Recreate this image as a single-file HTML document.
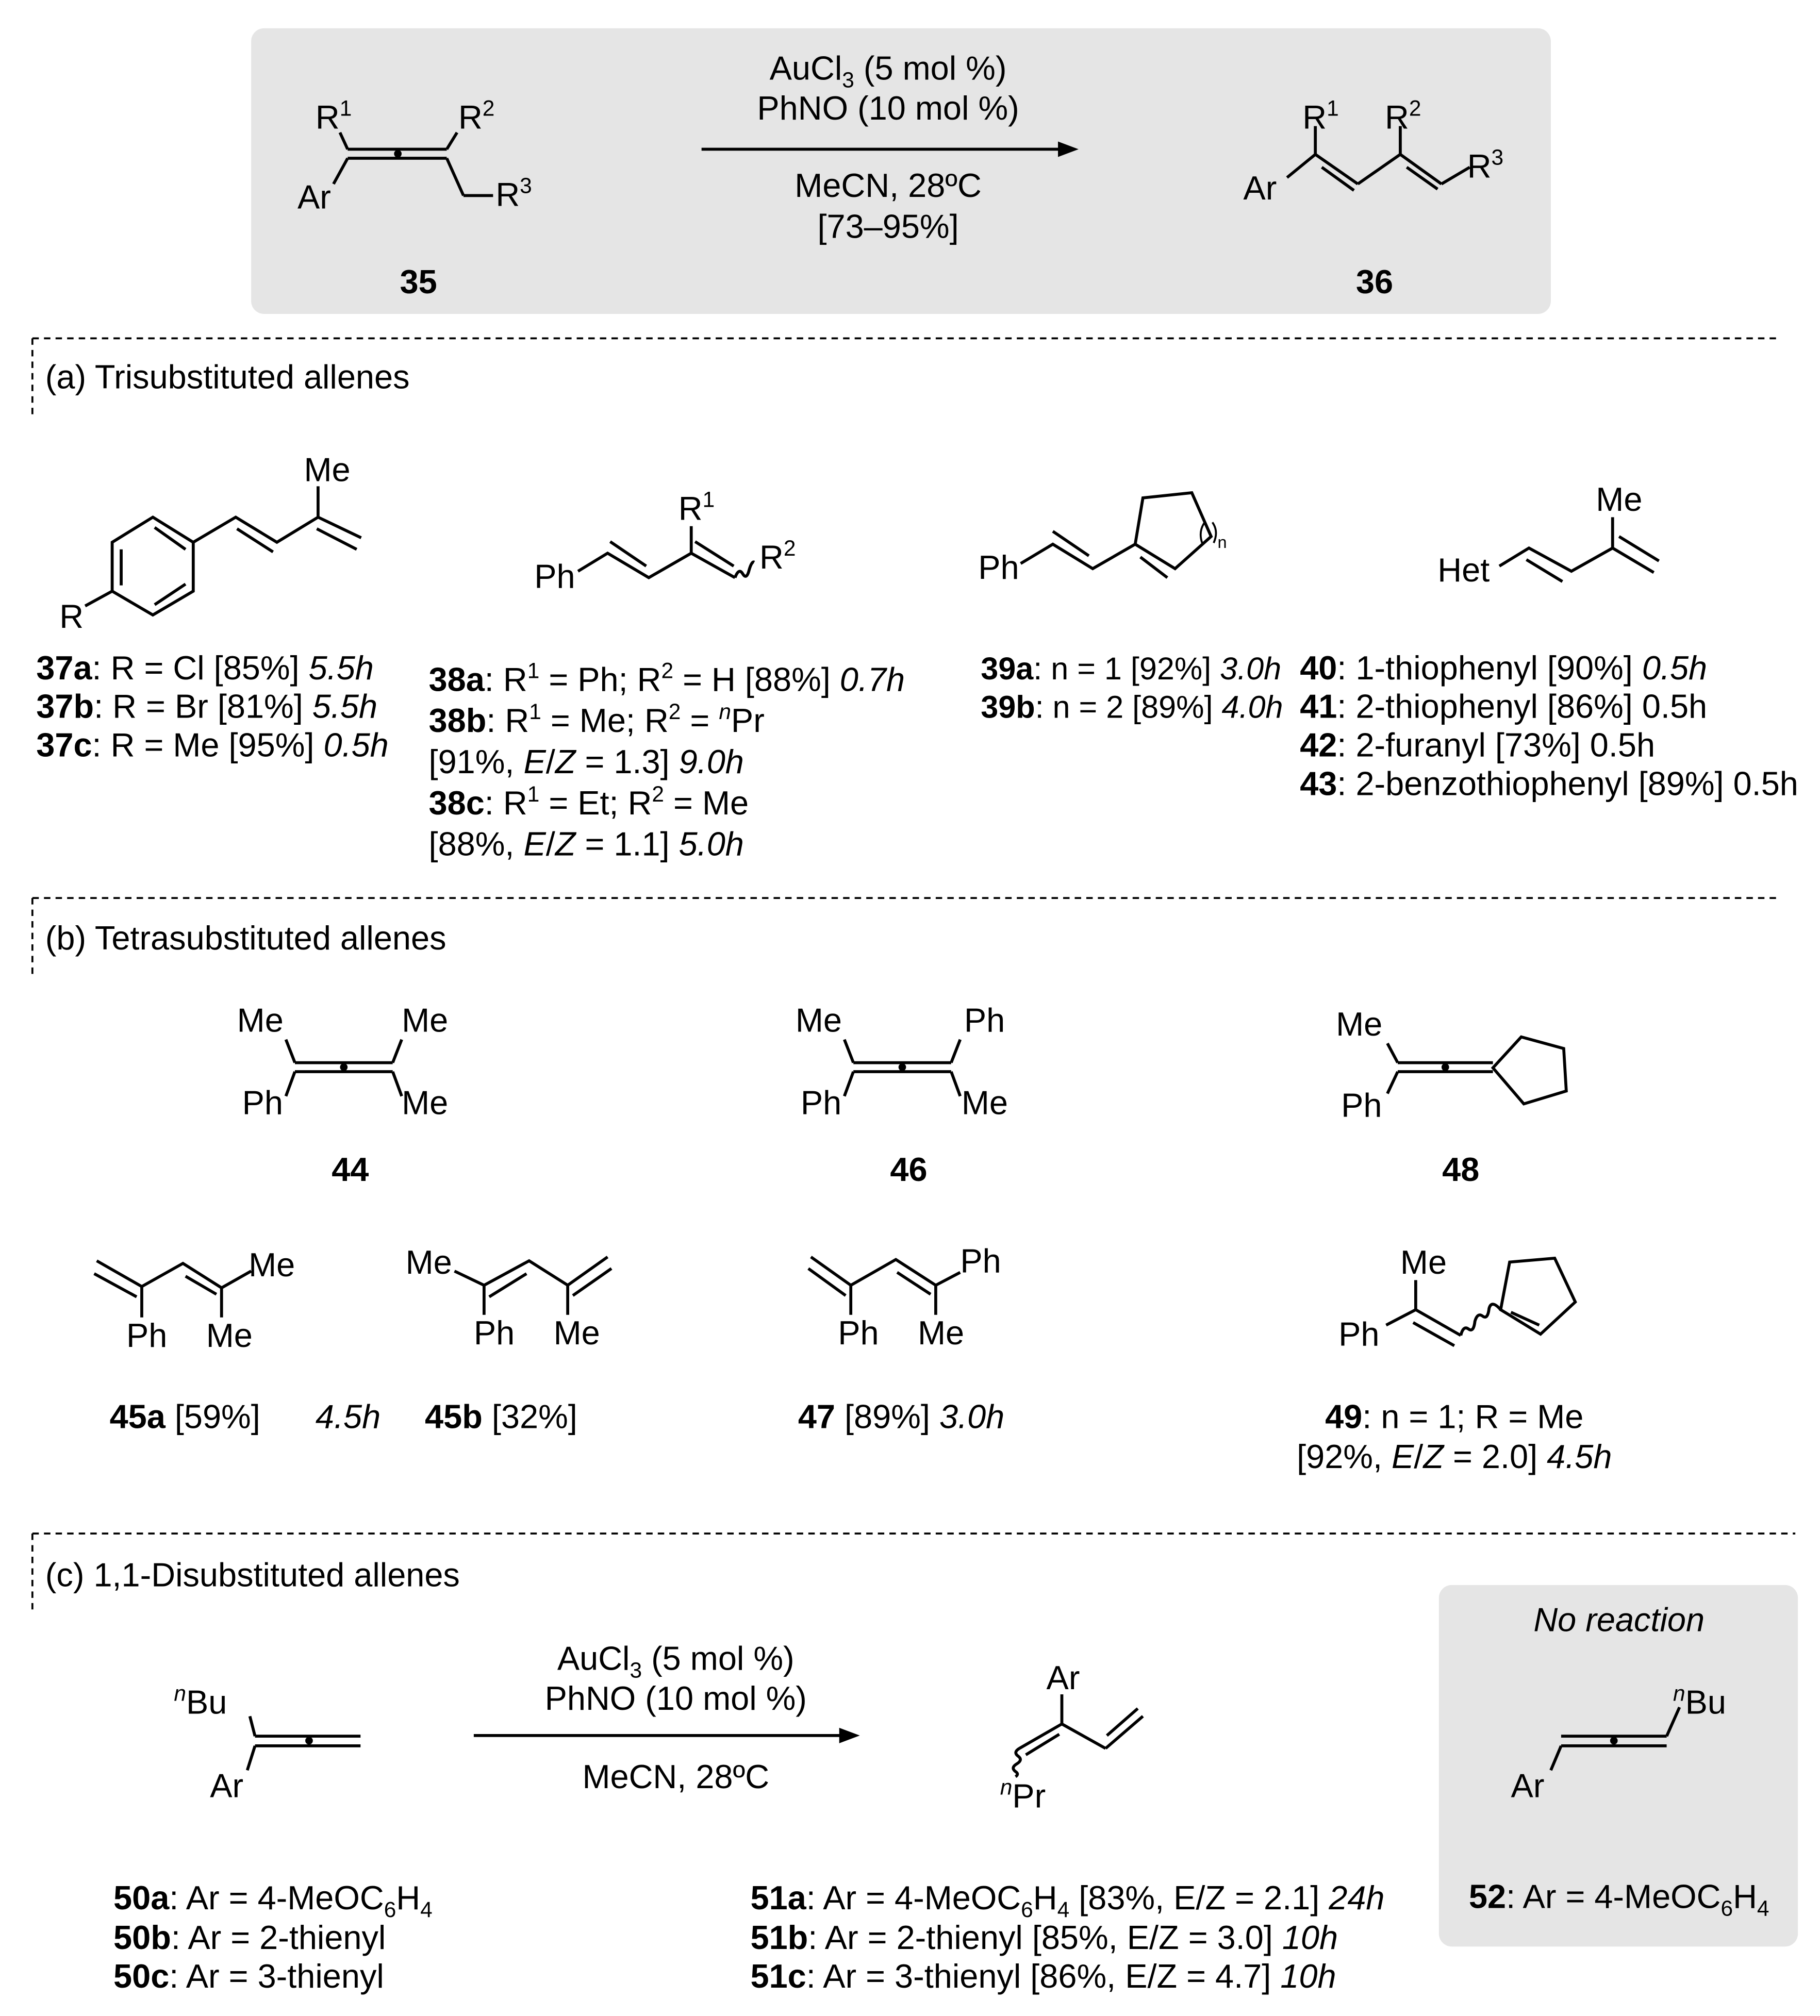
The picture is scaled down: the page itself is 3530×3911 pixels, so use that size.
<!DOCTYPE html>
<html><head><meta charset="utf-8"><style>
html,body{margin:0;padding:0;background:#fff}
svg{display:block}
text{font-family:"Liberation Sans",Arial,sans-serif;font-size:26px;fill:#000}
.b{font-weight:bold}
.i{font-style:italic}
</style></head><body>
<svg width="3530" height="3911" viewBox="0 0 1414 1567" xmlns="http://www.w3.org/2000/svg">
<g stroke="#000" stroke-width="2.3" fill="none" stroke-linecap="butt" stroke-linejoin="miter">
<rect x="195" y="22" width="1010" height="222" rx="10" fill="#e5e5e5" stroke="none"/>
<line x1="264" y1="103" x2="270" y2="116"/>
<line x1="270" y1="116" x2="347" y2="116"/>
<line x1="270" y1="123" x2="347" y2="123"/>
<circle cx="309" cy="119.5" r="1.8" fill="#000"/>
<line x1="270" y1="123" x2="259" y2="143"/>
<line x1="355" y1="103" x2="347" y2="116"/>
<line x1="347" y1="123" x2="360" y2="152"/>
<line x1="360" y1="152" x2="383" y2="152"/>
<line x1="545" y1="116" x2="825" y2="116"/>
<polygon points="838,116 822,110 822,122" fill="#000" stroke="none"/>
<line x1="1000" y1="138" x2="1022" y2="120"/>
<line x1="1022" y1="120" x2="1022" y2="98"/>
<line x1="1022" y1="120" x2="1055" y2="143"/>
<line x1="1027" y1="130" x2="1052" y2="148"/>
<line x1="1055" y1="143" x2="1088" y2="120"/>
<line x1="1088" y1="120" x2="1088" y2="98"/>
<line x1="1088" y1="120" x2="1120" y2="143"/>
<line x1="1093" y1="130" x2="1117" y2="147"/>
<line x1="1120" y1="143" x2="1142" y2="130"/>
<g stroke-dasharray="5,4" stroke-width="1.5">
<line x1="25" y1="263" x2="1380" y2="263"/><line x1="25" y1="263" x2="25" y2="325"/>
<line x1="25" y1="698" x2="1380" y2="698"/><line x1="25" y1="698" x2="25" y2="760"/>
<line x1="25" y1="1192" x2="1395" y2="1192"/><line x1="25" y1="1192" x2="25" y2="1255"/>
</g>
<polygon points="118.6,402 150,421.5 150,459.5 118.6,478 87,459.5 87,421.5"/>
<line x1="120" y1="410" x2="144" y2="427"/>
<line x1="94" y1="427" x2="94" y2="455"/>
<line x1="120" y1="470" x2="144" y2="454"/>
<line x1="87" y1="459.5" x2="66" y2="471"/>
<polyline points="150,421.5 183,402 215,421.5 247,402 280.5,418"/>
<line x1="184" y1="411" x2="212" y2="429"/>
<line x1="247" y1="402" x2="247" y2="378"/>
<line x1="246" y1="411" x2="277" y2="427"/>
<polyline points="449,444 472,430 504,449 537,430 571,449"/>
<line x1="474" y1="421" x2="502" y2="440"/>
<line x1="537" y1="430" x2="537" y2="409"/>
<line x1="540" y1="421" x2="570" y2="440"/>
<path d="M571,449 q3,-8 6,-3 q3,5 5,-3 q2,-7 4,-6"/>
<polyline points="793,438 818,423 849,442 882,423 913,442 941,417 926,383 888,387 882,423"/>
<line x1="818" y1="413" x2="846" y2="432"/>
<line x1="886" y1="433" x2="907" y2="449"/>
<path d="M936,406 q-5,7 -2,16" stroke-width="1.5"/>
<path d="M942,406 q5,7 1,16" stroke-width="1.5"/>
<polyline points="1165,440 1188,426 1221,444 1253,426 1285,445"/>
<line x1="1186" y1="435" x2="1214" y2="452"/>
<line x1="1253" y1="426" x2="1253" y2="402"/>
<line x1="1258" y1="417" x2="1289" y2="436"/>
<line x1="222" y1="808" x2="229" y2="826"/>
<line x1="229" y1="826" x2="305" y2="826"/>
<line x1="229" y1="833" x2="305" y2="833"/>
<circle cx="267" cy="829.5" r="1.8" fill="#000"/>
<line x1="229" y1="833" x2="222" y2="852"/>
<line x1="312" y1="808" x2="305" y2="826"/>
<line x1="305" y1="833" x2="312" y2="852"/>
<line x1="656" y1="808" x2="663" y2="826"/>
<line x1="663" y1="826" x2="739" y2="826"/>
<line x1="663" y1="833" x2="739" y2="833"/>
<circle cx="701" cy="829.5" r="1.8" fill="#000"/>
<line x1="663" y1="833" x2="656" y2="852"/>
<line x1="746" y1="808" x2="739" y2="826"/>
<line x1="739" y1="833" x2="746" y2="852"/>
<line x1="1078" y1="811" x2="1086" y2="826"/>
<line x1="1086" y1="826" x2="1160" y2="826"/>
<line x1="1086" y1="833" x2="1160" y2="833"/>
<circle cx="1123" cy="829.5" r="1.8" fill="#000"/>
<line x1="1086" y1="833" x2="1078" y2="850"/>
<polygon points="1160,830 1182,806 1215,815 1217,848 1184,858"/>
<polyline points="75,980 110,1000 142,982 172,1001 195,988"/>
<line x1="73" y1="990" x2="106" y2="1008"/>
<line x1="144" y1="992" x2="168" y2="1006"/>
<line x1="110" y1="1000" x2="110" y2="1024"/>
<line x1="172" y1="1001" x2="172" y2="1024"/>
<polyline points="353,988 376,999 411,980 441,999 472,977"/>
<line x1="380" y1="1008" x2="409" y2="990"/>
<line x1="445" y1="1007" x2="475" y2="986"/>
<line x1="376" y1="999" x2="376" y2="1022"/>
<line x1="441" y1="999" x2="441" y2="1022"/>
<polyline points="630,977 661,999 696,979 727,999 746,989"/>
<line x1="628" y1="986" x2="657" y2="1007"/>
<line x1="697" y1="989" x2="723" y2="1006"/>
<line x1="661" y1="999" x2="661" y2="1022"/>
<line x1="727" y1="999" x2="727" y2="1022"/>
<line x1="1100" y1="995" x2="1100" y2="1018"/>
<line x1="1100" y1="1018" x2="1077" y2="1030"/>
<line x1="1100" y1="1018" x2="1135" y2="1038"/>
<line x1="1098" y1="1028" x2="1130" y2="1046"/>
<path d="M1135,1038 q2,-8 6,-5 q4,3 5,-6 q2,-7 6,-4 q4,3 5,-6 q2,-7 9,1"/>
<polygon points="1166,1018 1173,981 1208,978 1224,1012 1197,1037"/>
<line x1="1174" y1="1020" x2="1196" y2="1030"/>
<line x1="194" y1="1334" x2="198" y2="1349.5"/>
<line x1="198" y1="1349.5" x2="280" y2="1349.5"/>
<line x1="198" y1="1357" x2="280" y2="1357"/>
<circle cx="240" cy="1353" r="1.8" fill="#000"/>
<line x1="198" y1="1357" x2="192" y2="1376"/>
<line x1="368" y1="1349" x2="655" y2="1349"/>
<polygon points="668,1349 652,1343 652,1355" fill="#000" stroke="none"/>
<line x1="825" y1="1317" x2="825" y2="1340"/>
<line x1="825" y1="1340" x2="792" y2="1359"/>
<line x1="823" y1="1348" x2="797" y2="1364"/>
<line x1="825" y1="1340" x2="859" y2="1359"/>
<line x1="859" y1="1359" x2="888" y2="1334"/>
<line x1="860" y1="1349" x2="884" y2="1328"/>
<path d="M792,1359 q-5,3 -1,6 q4,3 -1,6 q-5,3 -1,6 q3,2 0,4"/>
<rect x="1118" y="1232" width="279" height="281" rx="10" fill="#e5e5e5" stroke="none"/>
<line x1="1205" y1="1376" x2="1213" y2="1357"/>
<line x1="1213" y1="1349.5" x2="1295" y2="1349.5"/>
<line x1="1213" y1="1357" x2="1295" y2="1357"/>
<circle cx="1254" cy="1353" r="1.8" fill="#000"/>
<line x1="1295" y1="1349.5" x2="1305" y2="1327"/>
</g>
<text x="245" y="100">R<tspan dy="-10" font-size="17">1</tspan></text>
<text x="356" y="100">R<tspan dy="-10" font-size="17">2</tspan></text>
<text x="231" y="162">Ar</text>
<text x="385" y="160">R<tspan dy="-10" font-size="17">3</tspan></text>
<text x="690" y="62" text-anchor="middle">AuCl<tspan dy="6" font-size="17">3</tspan><tspan dy="-6"> (5 mol %)</tspan></text>
<text x="690" y="93" text-anchor="middle">PhNO (10 mol %)</text>
<text x="690" y="153" text-anchor="middle">MeCN, 28ºC</text>
<text x="690" y="185" text-anchor="middle">[73–95%]</text>
<text x="966" y="155">Ar</text>
<text x="1012" y="100">R<tspan dy="-10" font-size="17">1</tspan></text>
<text x="1076" y="100">R<tspan dy="-10" font-size="17">2</tspan></text>
<text x="1140" y="138">R<tspan dy="-10" font-size="17">3</tspan></text>
<text x="325" y="228" class="b" text-anchor="middle">35</text>
<text x="1068" y="228" class="b" text-anchor="middle">36</text>
<text x="35" y="302">(a) Trisubstituted allenes</text>
<text x="35" y="738">(b) Tetrasubstituted allenes</text>
<text x="35" y="1233">(c) 1,1-Disubstituted allenes</text>
<text x="236" y="374">Me</text>
<text x="46" y="488">R</text>
<text x="28" y="528"><tspan class="b">37a</tspan>: R = Cl [85%] <tspan class="i">5.5h</tspan></text>
<text x="28" y="558"><tspan class="b">37b</tspan>: R = Br [81%] <tspan class="i">5.5h</tspan></text>
<text x="28" y="588"><tspan class="b">37c</tspan>: R = Me [95%] <tspan class="i">0.5h</tspan></text>
<text x="415" y="457">Ph</text>
<text x="527" y="404">R<tspan dy="-10" font-size="17">1</tspan></text>
<text x="590" y="442">R<tspan dy="-10" font-size="17">2</tspan></text>
<text x="333" y="537"><tspan class="b">38a</tspan>: R<tspan dy="-10" font-size="17">1</tspan><tspan dy="10"> = Ph; R</tspan><tspan dy="-10" font-size="17">2</tspan><tspan dy="10"> = H [88%] </tspan><tspan class="i">0.7h</tspan></text>
<text x="333" y="569"><tspan class="b">38b</tspan>: R<tspan dy="-10" font-size="17">1</tspan><tspan dy="10"> = Me; R</tspan><tspan dy="-10" font-size="17">2</tspan><tspan dy="10"> = </tspan><tspan dy="-10" font-size="17" class="i">n</tspan><tspan dy="10">Pr</tspan></text>
<text x="333" y="601">[91%, <tspan class="i">E</tspan>/<tspan class="i">Z</tspan> = 1.3] <tspan class="i">9.0h</tspan></text>
<text x="333" y="633"><tspan class="b">38c</tspan>: R<tspan dy="-10" font-size="17">1</tspan><tspan dy="10"> = Et; R</tspan><tspan dy="-10" font-size="17">2</tspan><tspan dy="10"> = Me</tspan></text>
<text x="333" y="665">[88%, <tspan class="i">E</tspan>/<tspan class="i">Z</tspan> = 1.1] <tspan class="i">5.0h</tspan></text>
<text x="760" y="450">Ph</text>
<text x="946" y="426" style="font-size:13px">n</text>
<text x="762" y="528" style="font-size:24.5px"><tspan class="b">39a</tspan>: n = 1 [92%] <tspan class="i">3.0h</tspan></text>
<text x="762" y="558" style="font-size:24.5px"><tspan class="b">39b</tspan>: n = 2 [89%] <tspan class="i">4.0h</tspan></text>
<text x="1240" y="397">Me</text>
<text x="1117" y="452">Het</text>
<text x="1010" y="528"><tspan class="b">40</tspan>: 1-thiophenyl [90%] <tspan class="i">0.5h</tspan></text>
<text x="1010" y="558"><tspan class="b">41</tspan>: 2-thiophenyl [86%] 0.5h</text>
<text x="1010" y="588"><tspan class="b">42</tspan>: 2-furanyl [73%] 0.5h</text>
<text x="1010" y="618"><tspan class="b">43</tspan>: 2-benzothiophenyl [89%] 0.5h</text>
<text x="184" y="802">Me</text><text x="312" y="802">Me</text>
<text x="188" y="866">Ph</text><text x="312" y="866">Me</text>
<text x="272" y="918" class="b" text-anchor="middle">44</text>
<text x="618" y="802">Me</text><text x="749" y="802">Ph</text>
<text x="622" y="866">Ph</text><text x="747" y="866">Me</text>
<text x="706" y="918" class="b" text-anchor="middle">46</text>
<text x="1038" y="805">Me</text>
<text x="1042" y="868">Ph</text>
<text x="1135" y="918" class="b" text-anchor="middle">48</text>
<text x="193" y="992">Me</text>
<text x="98" y="1047">Ph</text><text x="160" y="1047">Me</text>
<text x="315" y="990">Me</text>
<text x="368" y="1045">Ph</text><text x="430" y="1045">Me</text>
<text x="746" y="989">Ph</text>
<text x="651" y="1045">Ph</text><text x="713" y="1045">Me</text>
<text x="1088" y="990">Me</text>
<text x="1040" y="1046">Ph</text>
<text x="85" y="1110"><tspan class="b">45a</tspan> [59%]</text>
<text x="245" y="1110" class="i">4.5h</text>
<text x="330" y="1110"><tspan class="b">45b</tspan> [32%]</text>
<text x="620" y="1110"><tspan class="b">47</tspan> [89%] <tspan class="i">3.0h</tspan></text>
<text x="1130" y="1110" text-anchor="middle"><tspan class="b">49</tspan>: n = 1; R = Me</text>
<text x="1130" y="1141" text-anchor="middle">[92%, <tspan class="i">E</tspan>/<tspan class="i">Z</tspan> = 2.0] <tspan class="i">4.5h</tspan></text>
<text x="135" y="1332"><tspan class="i" font-size="17" dy="-10">n</tspan><tspan dy="10">Bu</tspan></text>
<text x="163" y="1397">Ar</text>
<text x="525" y="1298" text-anchor="middle">AuCl<tspan dy="6" font-size="17">3</tspan><tspan dy="-6"> (5 mol %)</tspan></text>
<text x="525" y="1329" text-anchor="middle">PhNO (10 mol %)</text>
<text x="525" y="1390" text-anchor="middle">MeCN, 28ºC</text>
<text x="813" y="1313">Ar</text>
<text x="777" y="1405"><tspan class="i" font-size="17" dy="-10">n</tspan><tspan dy="10">Pr</tspan></text>
<text x="88" y="1484"><tspan class="b">50a</tspan>: Ar = 4-MeOC<tspan font-size="17" dy="6">6</tspan><tspan dy="-6">H</tspan><tspan font-size="17" dy="6">4</tspan></text>
<text x="88" y="1515"><tspan class="b">50b</tspan>: Ar = 2-thienyl</text>
<text x="88" y="1545"><tspan class="b">50c</tspan>: Ar = 3-thienyl</text>
<text x="583" y="1484"><tspan class="b">51a</tspan>: Ar = 4-MeOC<tspan font-size="17" dy="6">6</tspan><tspan dy="-6">H</tspan><tspan font-size="17" dy="6">4</tspan><tspan dy="-6"> [83%, E/Z = 2.1] </tspan><tspan class="i">24h</tspan></text>
<text x="583" y="1515"><tspan class="b">51b</tspan>: Ar = 2-thienyl [85%, E/Z = 3.0] <tspan class="i">10h</tspan></text>
<text x="583" y="1545"><tspan class="b">51c</tspan>: Ar = 3-thienyl [86%, E/Z = 4.7] <tspan class="i">10h</tspan></text>
<text x="1258" y="1268" text-anchor="middle" class="i">No reaction</text>
<text x="1300" y="1332"><tspan class="i" font-size="17" dy="-10">n</tspan><tspan dy="10">Bu</tspan></text>
<text x="1174" y="1397">Ar</text>
<text x="1258" y="1483" text-anchor="middle"><tspan class="b">52</tspan>: Ar = 4-MeOC<tspan font-size="17" dy="6">6</tspan><tspan dy="-6">H</tspan><tspan font-size="17" dy="6">4</tspan></text>
</svg>
</body></html>
